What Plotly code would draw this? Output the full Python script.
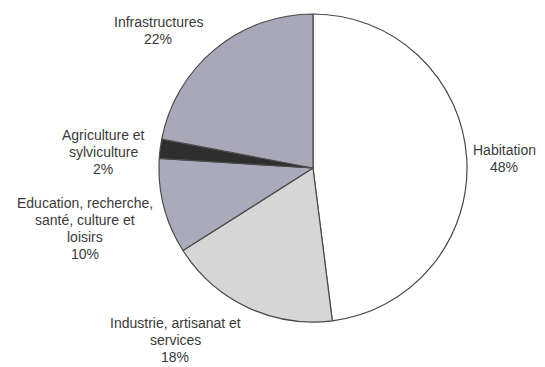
import plotly.graph_objects as go

categories = ["Habitation", "Industrie, artisanat et services",
              "Education, recherche, santé, culture et loisirs",
              "Agriculture et sylviculture", "Infrastructures"]
values = [48, 18, 10, 2, 22]
colors = ["#ffffff", "#d6d6d6", "#a9abbb", "#2e2e2e", "#a9a8b8"]

label_texts = ["Habitation<br>48%",
               "Industrie, artisanat et<br>services<br>18%",
               "Education, recherche,<br>santé, culture et<br>loisirs<br>10%",
               "Agriculture et<br>sylviculture<br>2%",
               "Infrastructures<br>22%"]
# label position in screen pixels: centre x, centre y of first line
label_px = [(504, 150), (175, 323), (84.5, 203), (103, 135), (158, 22)]
LINE_STEP = 17.0

OFF = 8  # page body margin
W, H = 545 - OFF, 367 - OFF
cx, cy, r = 313 - OFF, 168 - OFF, 154

fig = go.Figure(go.Pie(
    labels=categories, values=values, sort=False, direction="clockwise",
    rotation=0, marker=dict(colors=colors, line=dict(color="#4a4a4a", width=1.2)),
    textinfo="none", hoverinfo="label+percent", showlegend=False,
    domain=dict(x=[(cx - r) / W, (cx + r) / W], y=[(H - cy - r) / H, (H - cy + r) / H]),
))

for txt, (x, y0) in zip(label_texts, label_px):
    for i, line in enumerate(txt.split("<br>")):
        y = y0 + i * LINE_STEP
        fig.add_annotation(x=(x - OFF) / W, y=1 - (y - OFF) / H, xref="paper", yref="paper",
                           text=line, showarrow=False, xanchor="center", yanchor="middle",
                           align="center",
                           font=dict(family="Liberation Sans, Arial", size=14, color="#3a3a3a"))

fig.update_layout(width=W, height=H, margin=dict(l=0, r=0, t=0, b=0),
                  paper_bgcolor="white", plot_bgcolor="white")
fig.write_html("out.html")
